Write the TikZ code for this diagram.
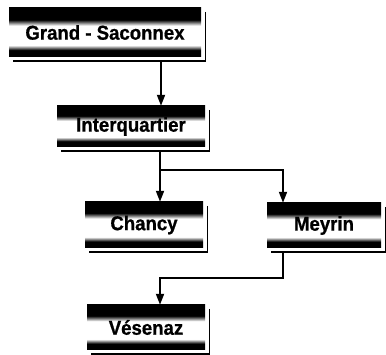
\documentclass[tikz,border=0pt]{standalone}
\usepackage{fontspec}
\setmainfont{Liberation Sans}[BoldFeatures={FakeStretch=0.93,FakeBold=0.8}]
\usetikzlibrary{arrows.meta}

% black plate with a white band across the middle for the label
\pgfdeclareverticalshading{plate}{100bp}{%
  color(0bp)=(black); color(32bp)=(black); color(37bp)=(white);
  color(57bp)=(white); color(63bp)=(black); color(100bp)=(black)}

\tikzset{
  station/.style={shading=plate, inner sep=0pt, font=\fontsize{20}{22}\selectfont\bfseries},
  shadowline/.style={line width=1.4pt, black},
  link/.style={line width=1.8pt, black},
  tolink/.style={link, -{Triangle[length=11pt,width=8pt]}},
}

\begin{document}
\begin{tikzpicture}[x=1pt, y=-1pt]
  \useasboundingbox (0,0) rectangle (386,355);

  % stations
  \node[station, minimum width=192pt, minimum height=49pt] (gs)      at (105,32.5)  {Grand - Saconnex};
  \node[station, minimum width=148pt, minimum height=41pt] (inter)   at (131,126.5) {Interquartier};
  \node[station, minimum width=118pt, minimum height=46pt] (chancy)  at (144,225)   {Chancy};
  \node[station, minimum width=114pt, minimum height=45pt] (meyrin)  at (324,225.5) {Meyrin};
  \node[station, minimum width=118pt, minimum height=45pt] (vesenaz) at (146,327.5) {Vésenaz};

  % offset outline shadow on the right and bottom of each plate
  \foreach \n in {gs, inter, chancy, meyrin, vesenaz}{
    \draw[shadowline] ([xshift=4pt,yshift=-4pt]\n.north east)
      -- ([xshift=4pt,yshift=-4pt]\n.south east)
      -- ([xshift=4pt,yshift=-4pt]\n.south west);
  }

  % junction points of the connectors
  \coordinate (a1) at (161,0);
  \coordinate (j1) at (160,170);
  \coordinate (j2) at (283,170);
  \coordinate (k1) at (283,278);
  \coordinate (k2) at (160,278);

  % connectors
  \draw[tolink] ([yshift=-4pt]gs.south -| a1) -- (inter.north -| a1);
  \draw[link] ([yshift=-4pt]inter.south -| j1) -- (j1);
  \draw[tolink] (j1) -- (chancy.north -| j1);
  \draw[tolink] (j1) -- (j2) -- (meyrin.north -| j2);
  \draw[tolink] ([yshift=-4pt]meyrin.south -| k1) -- (k1) -- (k2) -- (vesenaz.north -| k2);
\end{tikzpicture}
\end{document}
